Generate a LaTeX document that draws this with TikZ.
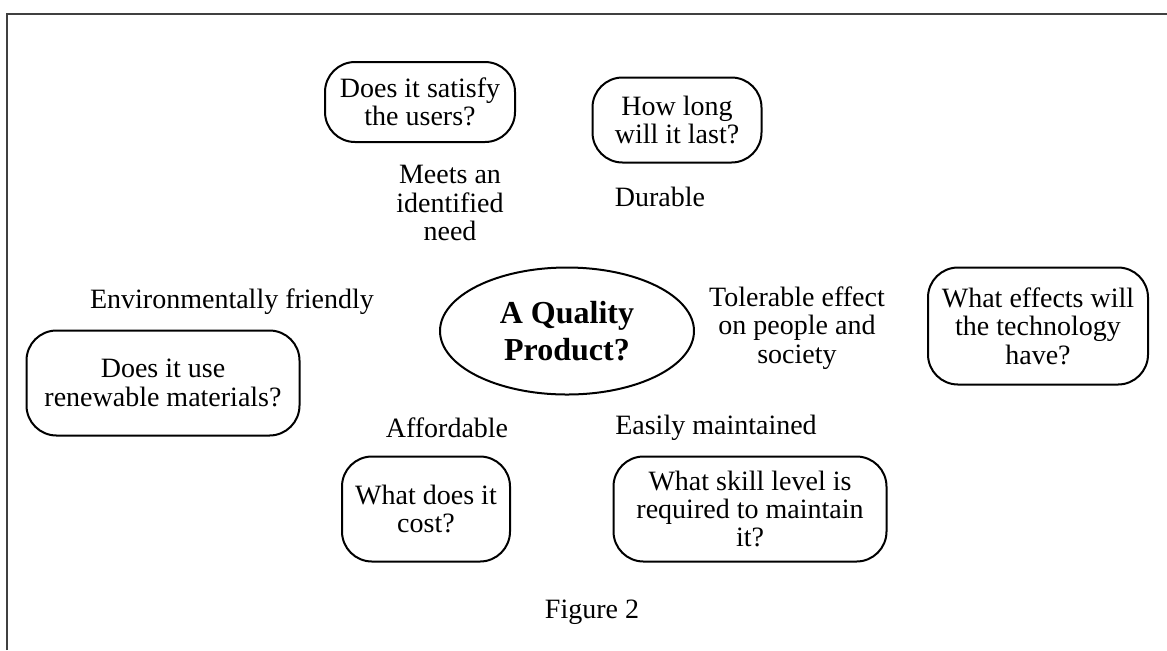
\documentclass[tikz,border=0pt]{standalone}
\usepackage{fontspec}
\setmainfont{Liberation Serif}
\usetikzlibrary{shapes}
\usetikzlibrary{positioning}

\begin{document}
\begin{tikzpicture}[x=0.5pt,y=-0.5pt,
		qbox/.style={draw, line width=1pt, rounded corners=15pt, align=center, inner sep=0pt, font=\fontsize{14}{14.2}\selectfont},
		lbl/.style={align=center, inner sep=0pt, font=\fontsize{14}{14.2}\selectfont}]
	
	\useasboundingbox (0,0) rectangle (1167,650);
	\draw[line width=1pt, black!75] (7,650) -- (7,14) -- (1167,14);
	
	\node[draw, ellipse, line width=1pt, minimum width=127pt, minimum height=63.5pt, inner sep=0pt, align=center, font=\fontsize{16}{18.5}\selectfont\bfseries] (quality) at (567,331) {A Quality\\Product?};
	
	\node[qbox, minimum width=95pt, minimum height=40pt] (satisfy) at (420,102) {Does it satisfy\\the users?};
	\node[qbox, minimum width=84.5pt, minimum height=42.5pt] (last) at (677,120) {How long\\will it last?};
	\node[qbox, minimum width=136.5pt, minimum height=52.5pt] (renew) at (163,383) {Does it use\\renewable materials?};
	\node[qbox, minimum width=110pt, minimum height=58.5pt] (effects) at (1038,326) {What effects will\\the technology\\have?};
	\node[qbox, minimum width=84pt, minimum height=52.5pt] (cost) at (426,509) {What does it\\cost?};
	\node[qbox, minimum width=136.5pt, minimum height=52.5pt] (skill) at (750,509) {What skill level is\\required to maintain\\it?};
	
	\node[lbl] (need) at (450,203) {Meets an\\identified\\need};
	\node[lbl] (durable) at (660,197) {Durable};
	\node[lbl] (friendly) at (232,302) {Environmentally friendly};
	\node[lbl] (tolerable) at (797,328) {Tolerable effect\\on people and\\society};
	\node[lbl] (afford) at (447,428) {Affordable};
	\node[lbl] (maintained) at (716,428) {Easily maintained};
	\node[lbl] (figure) at (592,612) {Figure 2};
	
\end{tikzpicture}
\end{document}
